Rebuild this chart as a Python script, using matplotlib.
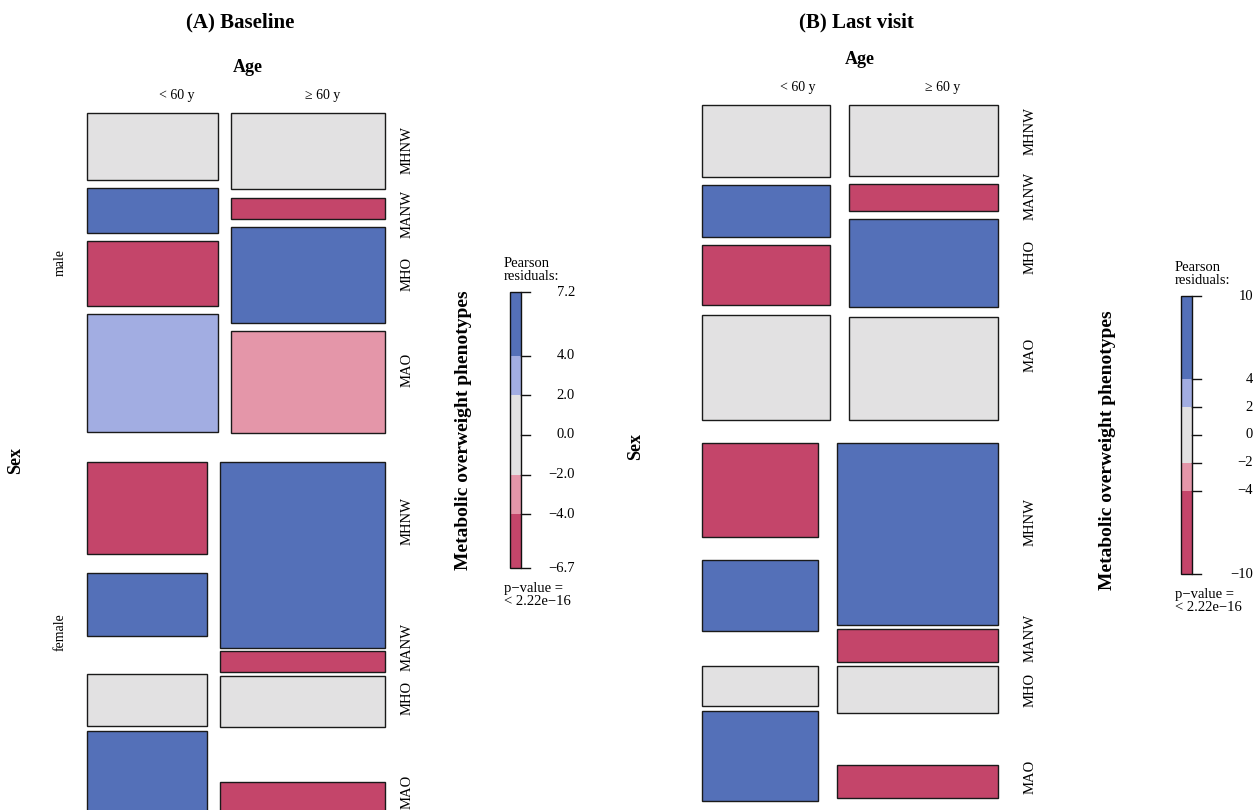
import matplotlib
matplotlib.use("Agg")
import matplotlib.pyplot as plt
from matplotlib.patches import Rectangle

plt.rcParams['font.family'] = ['Liberation Serif', 'DejaVu Serif']

# ---- data -------------------------------------------------------------
phenotypes = ["MHNW", "MANW", "MHO", "MAO"]
ages = ["< 60 y", "\u2265 60 y"]
sexes = ["male", "female"]

# share of the <60 y column inside each sex
age_share_a = [0.461, 0.420]
age_share_b = [0.462, 0.420]

# conditional phenotype proportions, [sex][age] -> MHNW, MANW, MHO, MAO
props_a = [[[0.227, 0.153, 0.220, 0.400], [0.259, 0.071, 0.323, 0.347]],
           [[0.312, 0.214, 0.176, 0.298], [0.631, 0.071, 0.173, 0.125]]]
props_b = [[[0.249, 0.180, 0.208, 0.363], [0.245, 0.093, 0.307, 0.355]],
           [[0.319, 0.241, 0.136, 0.305], [0.618, 0.111, 0.159, 0.111]]]

# Pearson residuals (estimated from shading)
resid_a = [[[1.0, 5.1, -4.6, 2.9], [-0.9, -4.8, 4.3, -2.6]],
           [[-6.7, 5.5, 0.4, 7.2], [6.1, -4.4, -0.5, -6.2]]]
resid_b = [[[0.8, 6.5, -7.0, 1.2], [-1.1, -6.0, 7.5, -0.6]],
           [[-8.5, 7.8, 0.9, 10.0], [9.2, -7.2, -1.4, -10.0]]]

legend_a = (-6.7, 7.2)
legend_b = (-10, 10)

# ---- layout (pixels) ----------------------------------------------------
W, H = 1255, 810
layout_a = dict(x0=87, x1=385, col_gap=13, tops=[113, 462], stack=[295, 295],
                gaps=[[[8, 8, 8], [9, 8, 8]], [[19, 38, 5], [3, 4, 55]]],
                age_x=[177, 323], lab_x=407,
                lab_y=[[150, 214, 274, 370], [521, 647, 698, 792]])
layout_b = dict(x0=702, x1=998, col_gap=19, tops=[105, 443], stack=[289, 295],
                gaps=[[[8, 8, 10], [8, 8, 10]], [[23, 35, 5], [4, 4, 52]]],
                age_x=[798, 943], lab_x=1030,
                lab_y=[[131, 196, 257, 355], [522, 638, 690, 777]])

cols = ["#C4456A", "#E496A9", "#E2E1E2", "#A2ADE2", "#5470B8"]
breaks = [-4, -2, 2, 4]


def shade(r):
    i = sum(r > b for b in breaks)
    return cols[i]


fig = plt.figure(figsize=(W / 100, H / 100), dpi=100)
ax = fig.add_axes([0, 0, 1, 1])
ax.set_xlim(0, W)
ax.set_ylim(H, 0)
ax.axis("off")


def mosaic(lay, share, props, resid):
    span = lay["x1"] - lay["x0"] - lay["col_gap"]
    for s in range(2):
        w0 = span * share[s]
        xs = [lay["x0"], lay["x0"] + w0 + lay["col_gap"]]
        ws = [w0, span - w0]
        for a in range(2):
            y = lay["tops"][s]
            for k in range(4):
                h = props[s][a][k] * lay["stack"][s]
                ax.add_patch(Rectangle((xs[a], y), ws[a], h,
                                       facecolor=shade(resid[s][a][k]),
                                       edgecolor="#1a1a1a", lw=1.0))
                y += h
                if k < 3:
                    y += lay["gaps"][s][a][k]
    for x, t in zip(lay["age_x"], ages):
        ax.text(x, lay["tops"][0] - 18, t, ha="center", va="center",
                fontsize=10)
    for s in range(2):
        for k, p in enumerate(phenotypes):
            ax.text(lay["lab_x"], lay["lab_y"][s][k], p, ha="center",
                    va="center", rotation=90, fontsize=10.5)


def legend(x, top, bottom, lims, fmt, lab_x):
    lo, hi = lims
    scale = lambda v: top + (hi - v) / (hi - lo) * (bottom - top)
    edges = [lo] + breaks + [hi]
    for i in range(5):
        y1, y0 = scale(edges[i]), scale(edges[i + 1])
        ax.add_patch(Rectangle((x, y0), 11, y1 - y0, facecolor=cols[i],
                               edgecolor="none"))
    ax.add_patch(Rectangle((x, top), 11, bottom - top, facecolor="none",
                           edgecolor="#111", lw=1.0))
    for v in [lo, -4, -2, 0, 2, 4, hi]:
        yy = scale(v)
        ax.plot([x + 11, x + 20], [yy, yy], color="#111", lw=1.0)
        ax.text(lab_x, yy, fmt(v).replace("-", "\u2212"), ha="right",
                va="center", fontsize=10.5)
    ax.text(x - 6, top - 22, "Pearson\nresiduals:", ha="left", va="center",
            fontsize=10.5, linespacing=0.95)
    ax.text(x - 6, bottom + 27, "p\u2212value =\n< 2.22e\u221216", ha="left",
            va="center", fontsize=10.5, linespacing=0.95)


# ---- panel A ----
mosaic(layout_a, age_share_a, props_a, resid_a)
ax.text(240, 22, "(A) Baseline", ha="center", va="center", fontsize=15,
        fontweight="bold")
ax.text(248, 68, "Age", ha="center", va="center", fontsize=13, fontweight="bold")
ax.text(16, 460, "Sex", ha="center", va="center", rotation=90, fontsize=13,
        fontweight="bold")
ax.text(60, 263, sexes[0], ha="center", va="center", rotation=90, fontsize=10)
ax.text(60, 632, sexes[1], ha="center", va="center", rotation=90, fontsize=10)
ax.text(463, 430, "Metabolic overweight phenotypes", ha="center", va="center",
        rotation=90, fontsize=14, fontweight="bold")
legend(510, 292, 568, legend_a, lambda v: f"{v:.1f}", 575)

# ---- panel B ----
mosaic(layout_b, age_share_b, props_b, resid_b)
ax.text(856, 22, "(B) Last visit", ha="center", va="center", fontsize=15,
        fontweight="bold")
ax.text(860, 60, "Age", ha="center", va="center", fontsize=13, fontweight="bold")
ax.text(636, 447, "Sex", ha="center", va="center", rotation=90, fontsize=13,
        fontweight="bold")
ax.text(1107, 450, "Metabolic overweight phenotypes", ha="center", va="center",
        rotation=90, fontsize=14, fontweight="bold")
legend(1181, 296, 574, legend_b, lambda v: f"{v:.0f}", 1253)

fig.savefig("out.png", dpi=100)
